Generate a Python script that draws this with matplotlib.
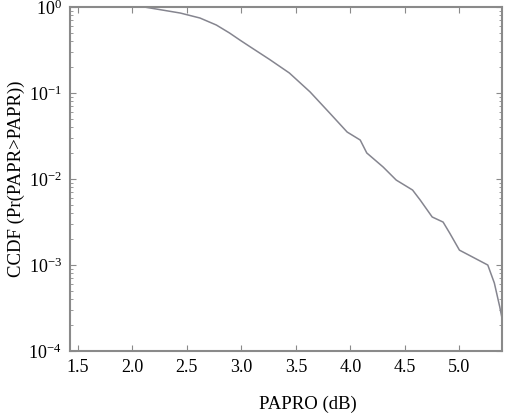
import matplotlib
matplotlib.use('Agg')
import matplotlib.pyplot as plt

plt.rcParams['font.family'] = ['Liberation Serif', 'DejaVu Serif']
plt.rcParams['mathtext.fontset'] = 'custom'
plt.rcParams['mathtext.rm'] = 'Liberation Serif'

# CCDF curve
papr_db = [2.11, 2.44, 2.62, 2.77, 2.89, 2.99, 3.08, 3.26, 3.44, 3.63, 3.81, 3.97, 4.09, 4.15,
           4.30, 4.42, 4.57, 4.64, 4.75, 4.85, 4.91, 5.00, 5.12, 5.26, 5.32, 5.37, 5.39]
ccdf = [1.0, 0.851, 0.745, 0.618, 0.50, 0.41, 0.345, 0.245, 0.171, 0.103, 0.0585, 0.0352,
        0.0284, 0.0201, 0.0138, 0.00973, 0.00745, 0.0057, 0.00362, 0.00316, 0.00236, 0.00149,
        0.00124, 0.001, 0.000618, 0.000325, 0.000242]
xticks = [1.5, 2.0, 2.5, 3.0, 3.5, 4.0, 4.5, 5.0]
xticklabels = ['1.5', '2.0', '2.5', '3.0', '3.5', '4.0', '4.5', '5.0']

fig, ax = plt.subplots(figsize=(5.05, 4.13), dpi=100)
plt.subplots_adjust(left=0.139, right=0.994, top=0.983, bottom=0.15)

ax.semilogy(papr_db, ccdf, color='#85858f', linewidth=1.1)
ax.set_xlim(1.43, 5.39)
ax.set_ylim(1e-4, 1)
ax.set_xticks(xticks)
ax.set_xticklabels(xticklabels)

for s in ax.spines.values():
    s.set_color('#8a8a8a')
    s.set_linewidth(1.5)
ax.tick_params(which='both', direction='in', top=True, right=True, colors='#8a8a8a',
               labelcolor='black', labelsize=13)
ax.tick_params(which='major', length=4, pad=6)
ax.tick_params(which='minor', length=2)

ax.set_xlabel('PAPRO (dB)', fontsize=13.5)
ax.set_ylabel('CCDF (Pr(PAPR>PAPR))', fontsize=13.5)
ax.xaxis.set_label_coords(0.55, -0.13)
ax.yaxis.set_label_coords(-0.105, 0.5)

plt.savefig('out.png', dpi=100)
